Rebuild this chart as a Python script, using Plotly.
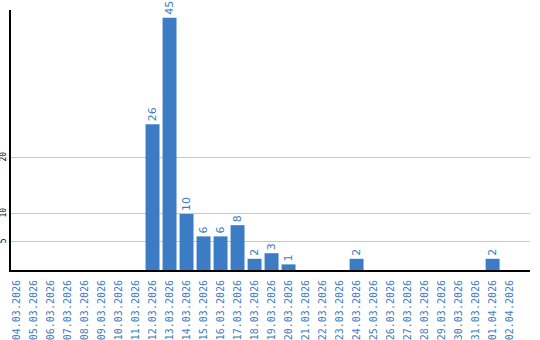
import plotly.graph_objects as go

dates = ["04.03.2026", "05.03.2026", "06.03.2026", "07.03.2026", "08.03.2026",
         "09.03.2026", "10.03.2026", "11.03.2026", "12.03.2026", "13.03.2026",
         "14.03.2026", "15.03.2026", "16.03.2026", "17.03.2026", "18.03.2026",
         "19.03.2026", "20.03.2026", "21.03.2026", "22.03.2026", "23.03.2026",
         "24.03.2026", "25.03.2026", "26.03.2026", "27.03.2026", "28.03.2026",
         "29.03.2026", "30.03.2026", "31.03.2026", "01.04.2026", "02.04.2026"]
counts = [0, 0, 0, 0, 0, 0, 0, 0, 26, 45,
          10, 6, 6, 8, 2, 3, 1, 0, 0, 0,
          2, 0, 0, 0, 0, 0, 0, 0, 2, 0]
y_ticks = [5, 10, 20]

blue = "#3b7cc4"
labels = [str(v) if v else "" for v in counts]

fig = go.Figure(go.Bar(
    x=list(range(len(dates))), y=counts, marker_color=blue, marker_line_width=0,
    text=labels, textposition="outside", textangle=-90,
    textfont=dict(family="DejaVu Sans", size=11, color=blue),
    cliponaxis=False, width=0.82,
))

fig.update_layout(
    width=540, height=340,
    margin=dict(l=11, r=10, t=10, b=70),
    paper_bgcolor="white", plot_bgcolor="white",
    showlegend=False,
    uniformtext=dict(mode=False),
    xaxis=dict(
        range=[-0.324, 30.2], automargin=False,
        tickmode="array", tickvals=list(range(len(dates))), ticktext=dates,
        tickangle=-90, tickfont=dict(family="DejaVu Sans Mono", size=10, color=blue),
        showgrid=False, showline=True, linecolor="black", linewidth=2,
        ticks="", zeroline=False, ticklabelstandoff=4,
    ),
    yaxis=dict(
        range=[0, 46.4], automargin=False,
        tickmode="array", tickvals=y_ticks, ticktext=[str(v) for v in y_ticks],
        tickangle=-90, tickfont=dict(family="DejaVu Sans Mono", size=8, color="black"),
        showgrid=True, gridcolor="#c8c8c8", gridwidth=1,
        showline=True, linecolor="black", linewidth=2,
        ticks="", zeroline=False, ticklabelstandoff=0,
    ),
)

fig.write_html("out.html")
